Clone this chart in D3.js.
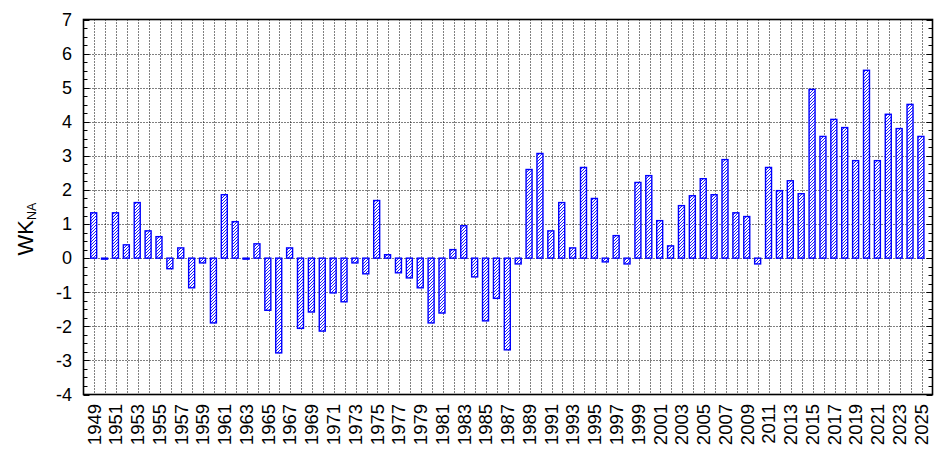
<!DOCTYPE html>
<html>
<head>
<meta charset="utf-8">
<script src="https://cdn.jsdelivr.net/npm/d3@7"></script>
<style>
html,body{margin:0;padding:0;background:#fff;}
svg{display:block;font-family:"Liberation Sans",Arial,sans-serif;}
</style>
</head>
<body>
<svg id="chart" width="943" height="457"></svg>
<script>
const years = d3.range(1949, 2026);
const values = [
 1.33,-0.03,1.33,0.39,1.63,0.80,0.63,-0.31,0.30,-0.87,-0.14,-1.90,1.86,
 1.07,-0.03,0.42,-1.53,-2.78,0.30,-2.06,-1.58,-2.14,-1.02,-1.28,-0.14,-0.46,
 1.69,0.10,-0.43,-0.58,-0.87,-1.90,-1.61,0.25,0.95,-0.55,-1.84,-1.18,-2.69,
 -0.17,2.60,3.07,0.80,1.63,0.30,2.66,1.75,-0.11,0.66,-0.17,2.22,2.42,
 1.10,0.36,1.54,1.83,2.33,1.86,2.89,1.33,1.22,-0.17,2.66,1.98,2.27,
 1.89,4.95,3.57,4.07,3.83,2.86,5.51,2.86,4.22,3.80,4.51,3.57
];
const yTicks = [-4,-3,-2,-1,0,1,2,3,4,5,6,7];
const xLabelYears = years.filter((y,i) => i % 2 === 0);
const yLabelMain = "WK";
const yLabelSub = "NA";

const svg = d3.select("#chart");
const L = 83.5, R = 932.5, T = 19.5, B = 394.5;
const x = d3.scaleLinear().domain([1948, 2026]).range([L, R]);
const y = d3.scaleLinear().domain([-4, 7]).range([B, T]);

const defs = svg.append("defs");
const pat = defs.append("pattern").attr("id","hatch").attr("patternUnits","userSpaceOnUse")
  .attr("width",3).attr("height",3);
pat.append("rect").attr("width",3).attr("height",3).attr("fill","#fff");
pat.append("path").attr("d","M0,3 L3,0 M-1,1 L1,-1 M2,4 L4,2")
  .attr("stroke","#0000ff").attr("stroke-width",0.9);

// grid
const grid = svg.append("g");
grid.selectAll("line.v").data(years).join("line")
  .attr("x1", d => Math.round(x(d)) + 0.5).attr("x2", d => Math.round(x(d)) + 0.5)
  .attr("y1", T).attr("y2", B)
  .attr("stroke","#000").attr("stroke-width",1).attr("stroke-dasharray","1,2");
grid.selectAll("line.h").data(yTicks.filter(d => d > -4 && d < 7)).join("line")
  .attr("x1", L).attr("x2", R)
  .attr("y1", d => Math.round(y(d)) + 0.5).attr("y2", d => Math.round(y(d)) + 0.5)
  .attr("stroke","#000").attr("stroke-width",1).attr("stroke-dasharray","1,2");

// minor ticks
const minor = d3.range(-4, 7.001, 0.25);
const tk = svg.append("g");
tk.selectAll("line.l").data(minor).join("line")
  .attr("x1", L).attr("x2", d => L + (Number.isInteger(d) ? 6 : 4))
  .attr("y1", d => Math.round(y(d)) + 0.5).attr("y2", d => Math.round(y(d)) + 0.5)
  .attr("stroke","#000").attr("stroke-width",1);
tk.selectAll("line.r").data(minor).join("line")
  .attr("x1", R).attr("x2", d => R - (Number.isInteger(d) ? 6 : 4))
  .attr("y1", d => Math.round(y(d)) + 0.5).attr("y2", d => Math.round(y(d)) + 0.5)
  .attr("stroke","#000").attr("stroke-width",1);

// bars
const bw = 6;
svg.append("g").selectAll("rect").data(years.map((yr,i)=>({yr, v: values[i]}))).join("rect")
  .attr("x", d => x(d.yr) - 0.7 - bw/2)
  .attr("y", d => y(Math.max(0, d.v)))
  .attr("width", bw)
  .attr("height", d => Math.max(0.8, Math.abs(y(d.v) - y(0))))
  .attr("fill","url(#hatch)")
  .attr("stroke","#0000ff").attr("stroke-width",1.4);

// frame
svg.append("rect").attr("x",L).attr("y",T).attr("width",R-L).attr("height",B-T)
  .attr("fill","none").attr("stroke","#000").attr("stroke-width",1.6);

// y tick labels
svg.append("g").selectAll("text").data(yTicks).join("text")
  .attr("x", 72).attr("y", d => y(d)).attr("dy","0.35em")
  .attr("text-anchor","end").attr("font-size",18).attr("fill","#000")
  .text(d => d);

// x tick labels
svg.append("g").selectAll("text").data(xLabelYears).join("text")
  .attr("transform", d => `translate(${x(d)-0.5},404) rotate(-90)`)
  .attr("dy","0.36em")
  .attr("text-anchor","end").attr("font-size",18.5).attr("fill","#000")
  .text(d => d);

// y axis label
const yl = svg.append("text")
  .attr("transform","translate(33,229) rotate(-90)")
  .attr("text-anchor","middle").attr("fill","#000");
yl.append("tspan").attr("font-size",22).text(yLabelMain);
yl.append("tspan").attr("font-size",12.5).attr("dy",3).text(yLabelSub);
</script>
</body>
</html>
